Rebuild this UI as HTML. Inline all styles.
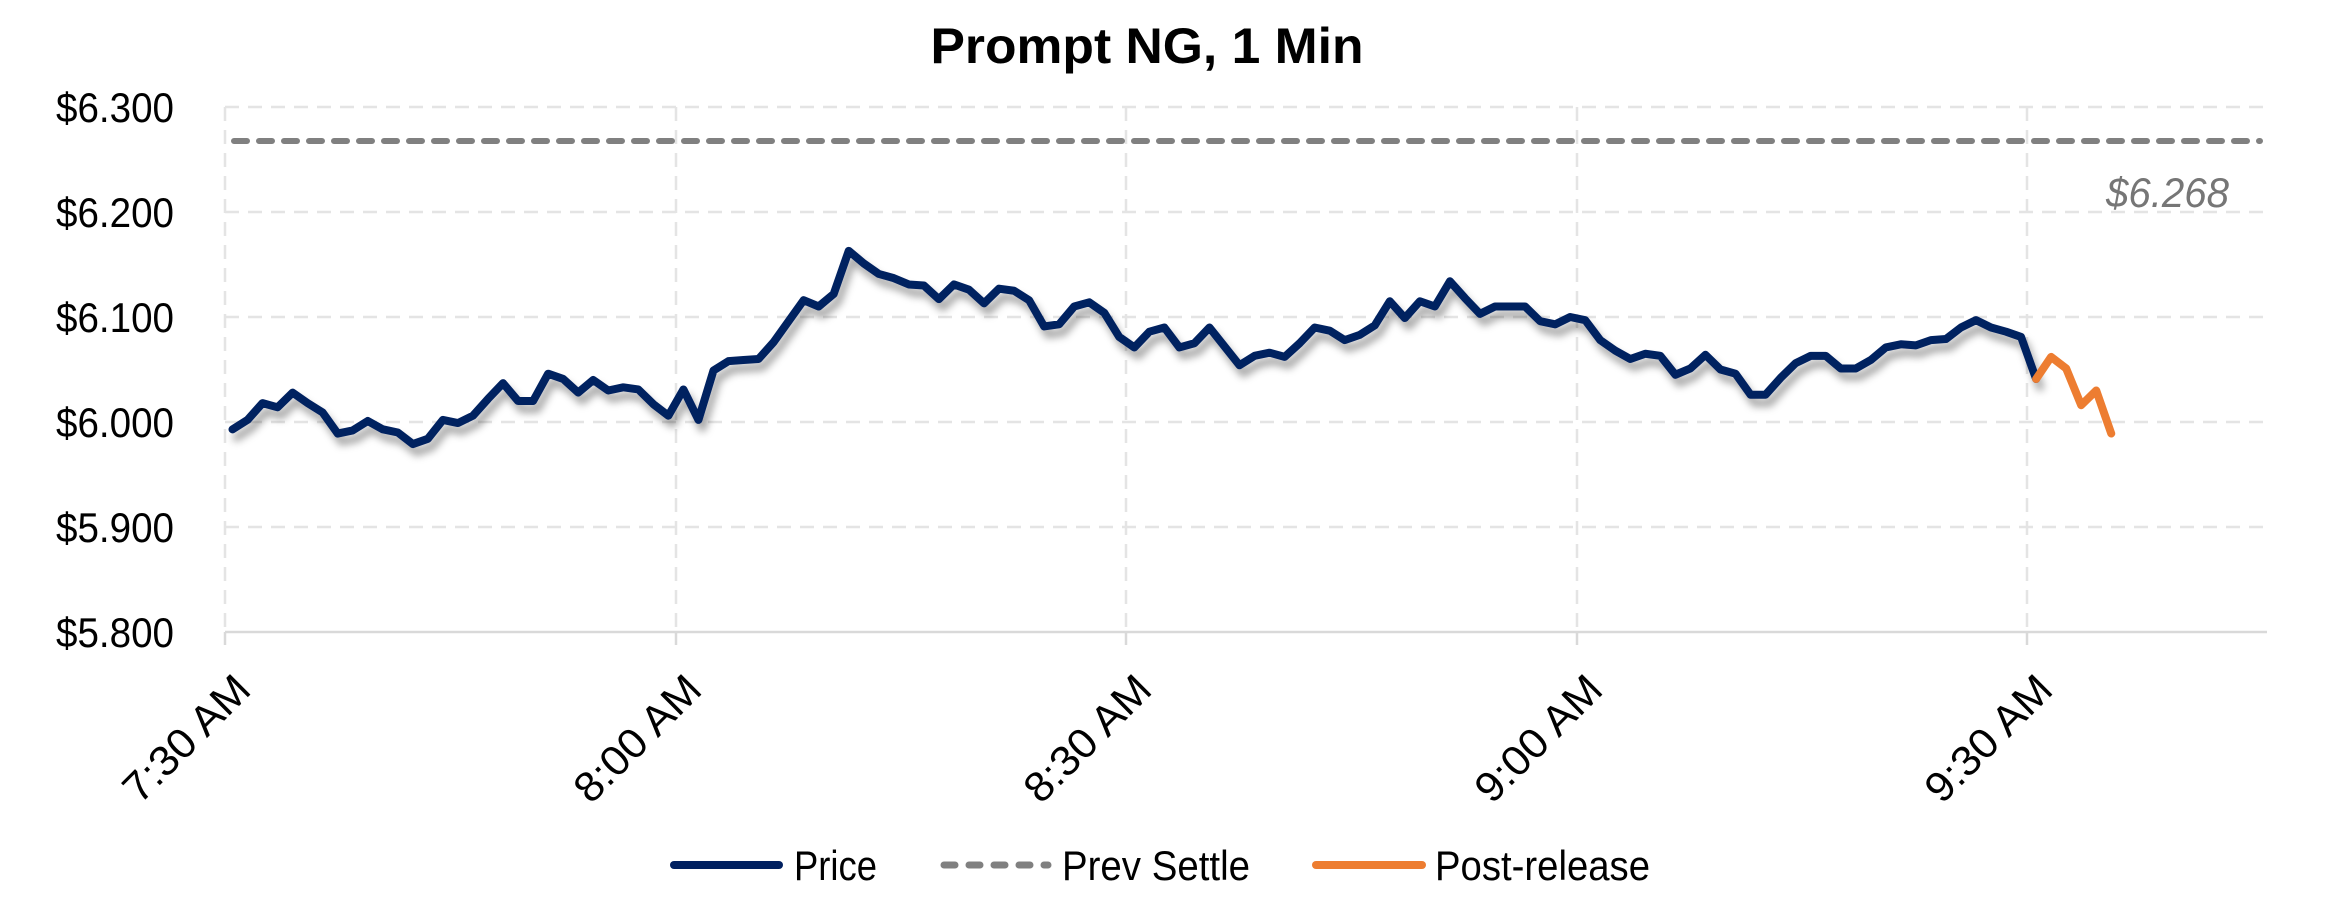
<!DOCTYPE html>
<html><head><meta charset="utf-8"><style>
html,body{margin:0;padding:0;background:#fff;}
svg{display:block;}
text{font-family:"Liberation Sans",sans-serif;}
</style></head><body>
<svg width="2325" height="902" viewBox="0 0 2325 902" xmlns="http://www.w3.org/2000/svg">
<defs>
<filter id="sh" x="-5%" y="-20%" width="110%" height="150%">
<feDropShadow dx="4" dy="8" stdDeviation="4" flood-color="#000" flood-opacity="0.35"/>
</filter>
</defs>
<rect width="2325" height="902" fill="#fff"/>
<text x="1147" y="63" font-size="50" font-weight="bold" text-anchor="middle" textLength="433" lengthAdjust="spacingAndGlyphs">Prompt NG, 1 Min</text>
<g stroke="#e4e4e4" stroke-width="2.5" stroke-dasharray="14 9" fill="none">
<line x1="225" y1="107" x2="2267" y2="107"/>
<line x1="225" y1="212" x2="2267" y2="212"/>
<line x1="225" y1="317" x2="2267" y2="317"/>
<line x1="225" y1="422" x2="2267" y2="422"/>
<line x1="225" y1="527" x2="2267" y2="527"/>
<line x1="225" y1="107" x2="225" y2="632"/>
<line x1="676" y1="107" x2="676" y2="632"/>
<line x1="1126" y1="107" x2="1126" y2="632"/>
<line x1="1577" y1="107" x2="1577" y2="632"/>
<line x1="2027" y1="107" x2="2027" y2="632"/>
</g>
<g stroke="#d9d9d9" stroke-width="2.5">
<line x1="225" y1="632" x2="2267" y2="632"/>
<line x1="225" y1="632" x2="225" y2="645"/>
<line x1="676" y1="632" x2="676" y2="645"/>
<line x1="1126" y1="632" x2="1126" y2="645"/>
<line x1="1577" y1="632" x2="1577" y2="645"/>
<line x1="2027" y1="632" x2="2027" y2="645"/>
</g>
<g font-size="42" text-anchor="end" fill="#000">
<text x="174" y="122" textLength="118" lengthAdjust="spacingAndGlyphs">$6.300</text>
<text x="174" y="227" textLength="118" lengthAdjust="spacingAndGlyphs">$6.200</text>
<text x="174" y="332" textLength="118" lengthAdjust="spacingAndGlyphs">$6.100</text>
<text x="174" y="437" textLength="118" lengthAdjust="spacingAndGlyphs">$6.000</text>
<text x="174" y="542" textLength="118" lengthAdjust="spacingAndGlyphs">$5.900</text>
<text x="174" y="647" textLength="118" lengthAdjust="spacingAndGlyphs">$5.800</text>
</g>
<g font-size="42" text-anchor="end" fill="#000">
<text transform="translate(253,692) rotate(-45)" textLength="160" lengthAdjust="spacingAndGlyphs">7:30 AM</text>
<text transform="translate(704,692) rotate(-45)" textLength="160" lengthAdjust="spacingAndGlyphs">8:00 AM</text>
<text transform="translate(1154,692) rotate(-45)" textLength="160" lengthAdjust="spacingAndGlyphs">8:30 AM</text>
<text transform="translate(1605,692) rotate(-45)" textLength="160" lengthAdjust="spacingAndGlyphs">9:00 AM</text>
<text transform="translate(2055,692) rotate(-45)" textLength="160" lengthAdjust="spacingAndGlyphs">9:30 AM</text>
</g>
<line x1="234" y1="141" x2="2260" y2="141" stroke="#808080" stroke-width="6" stroke-linecap="round" stroke-dasharray="13 12"/>
<text x="2229" y="207" font-size="42" font-style="italic" fill="#767676" text-anchor="end" textLength="123" lengthAdjust="spacingAndGlyphs">$6.268</text>
<g filter="url(#sh)">
<g transform="matrix(15.03 0 0 -1050 232.5 6722)">
<polyline fill="none" stroke="#002060" stroke-width="8" stroke-linejoin="round" stroke-linecap="round" vector-effect="non-scaling-stroke" points="0,5.993 1,6.002 2,6.018 3,6.014 4,6.028 5,6.018 6,6.009 7,5.989 8,5.992 9,6.001 10,5.993 11,5.990 12,5.979 13,5.984 14,6.002 15,5.999 16,6.006 17,6.022 18,6.037 19,6.020 20,6.020 21,6.046 22,6.041 23,6.028 24,6.040 25,6.030 26,6.033 27,6.031 28,6.017 29,6.006 30,6.031 31,6.002 32,6.049 33,6.058 34,6.059 35,6.060 36,6.076 37,6.096 38,6.116 39,6.110 40,6.122 41,6.163 42,6.151 43,6.141 44,6.137 45,6.131 46,6.130 47,6.117 48,6.131 49,6.126 50,6.113 51,6.127 52,6.125 53,6.116 54,6.091 55,6.093 56,6.110 57,6.114 58,6.104 59,6.081 60,6.071 61,6.086 62,6.090 63,6.071 64,6.075 65,6.090 66,6.072 67,6.054 68,6.063 69,6.066 70,6.062 71,6.075 72,6.090 73,6.087 74,6.078 75,6.083 76,6.092 77,6.115 78,6.099 79,6.115 80,6.110 81,6.134 82,6.118 83,6.103 84,6.110 85,6.110 86,6.110 87,6.096 88,6.093 89,6.100 90,6.097 91,6.078 92,6.068 93,6.060 94,6.065 95,6.063 96,6.045 97,6.051 98,6.064 99,6.050 100,6.046 101,6.026 102,6.026 103,6.042 104,6.056 105,6.063 106,6.063 107,6.051 108,6.051 109,6.059 110,6.071 111,6.074 112,6.073 113,6.078 114,6.079 115,6.090 116,6.097 117,6.090 118,6.086 119,6.081 120,6.041"/>
</g>
</g>
<g transform="matrix(15.03 0 0 -1050 232.5 6722)">
<polyline fill="none" stroke="#ED7D31" stroke-width="8" stroke-linejoin="round" stroke-linecap="round" vector-effect="non-scaling-stroke" points="120,6.041 121,6.062 122,6.051 123,6.016 124,6.030 125,5.989"/>
</g>
<line x1="674" y1="865" x2="779" y2="865" stroke="#002060" stroke-width="8" stroke-linecap="round"/>
<text x="794" y="880" font-size="42" textLength="83" lengthAdjust="spacingAndGlyphs">Price</text>
<line x1="944" y1="865" x2="1048" y2="865" stroke="#808080" stroke-width="7" stroke-linecap="round" stroke-dasharray="11 14"/>
<text x="1062" y="880" font-size="42" textLength="188" lengthAdjust="spacingAndGlyphs">Prev Settle</text>
<line x1="1316" y1="865" x2="1422" y2="865" stroke="#ED7D31" stroke-width="8" stroke-linecap="round"/>
<text x="1435" y="880" font-size="42" textLength="215" lengthAdjust="spacingAndGlyphs">Post-release</text>
</svg>
</body></html>
